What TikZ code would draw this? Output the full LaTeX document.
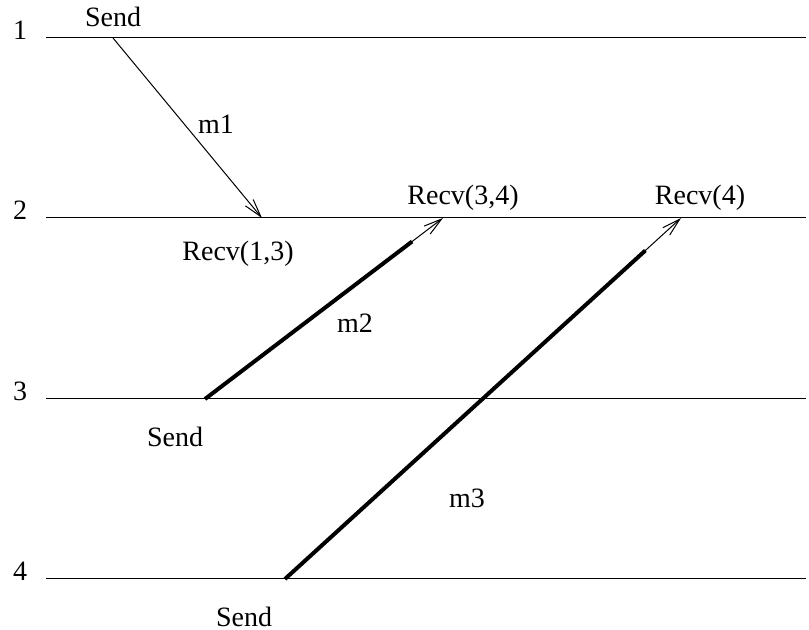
\documentclass[tikz,border=0pt]{standalone}
\usepackage{fontspec}
\setmainfont{Liberation Serif}
\usetikzlibrary{arrows.meta,positioning,calc}

\tikzset{
  proc/.style={line width=0.5pt},
  msg/.style={line width=0.5pt, -{Straight Barb[length=9pt,width=5pt]}},
  sendpart/.style={line width=2pt},
  lbl/.style={inner sep=0pt, font=\fontsize{14}{16}\selectfont}
}

\begin{document}
\begin{tikzpicture}[x=0.5pt, y=-0.5pt]
  \useasboundingbox (0,0) rectangle (809,630);
  % process lines
  \coordinate (l1) at (46,38);   \coordinate (r1) at (806,38);
  \coordinate (l2) at (46,218);  \coordinate (r2) at (806,218);
  \coordinate (l3) at (46,399);  \coordinate (r3) at (806,399);
  \coordinate (l4) at (46,579);  \coordinate (r4) at (806,579);
  \node[lbl] (p1) at (20,30) {1};
  \node[lbl] (p2) at (20,210) {2};
  \node[lbl] (p3) at (20,391) {3};
  \node[lbl] (p4) at (20,571) {4};
  \path[proc]
    (l1) edge (r1)
    (l2) edge (r2)
    (l3) edge (r3)
    (l4) edge (r4);
  % events
  \coordinate (s1) at (113,38);
  \coordinate (e1) at (262,218);
  \coordinate (s2) at (205,399);
  \coordinate (e2) at (443,218);
  \coordinate (s3) at (285,579);
  \coordinate (e3) at (681,218);
  \node[lbl] (send1) at (113,17) {Send};
  \node[lbl] (recv13) at (238,254) {Recv(1,3)};
  \node[lbl] (recv34) at (463,198) {Recv(3,4)};
  \node[lbl] (recv4) at (700,198) {Recv(4)};
  \node[lbl] (send3) at (175,437) {Send};
  \node[lbl] (send4) at (244,617) {Send};
  % messages
  \draw[msg] (s1) -- (e1);
  \node[lbl] (m1) at (216,124) {m1};
  \draw[msg] (s2) -- (e2);
  \draw[sendpart] (s2) -- ($(s2)!0.87!(e2)$);
  \node[lbl] (m2) at (355,323) {m2};
  \draw[msg] (s3) -- (e3);
  \draw[sendpart] (s3) -- ($(s3)!0.91!(e3)$);
  \node[lbl] (m3) at (467,498) {m3};
\end{tikzpicture}
\end{document}
